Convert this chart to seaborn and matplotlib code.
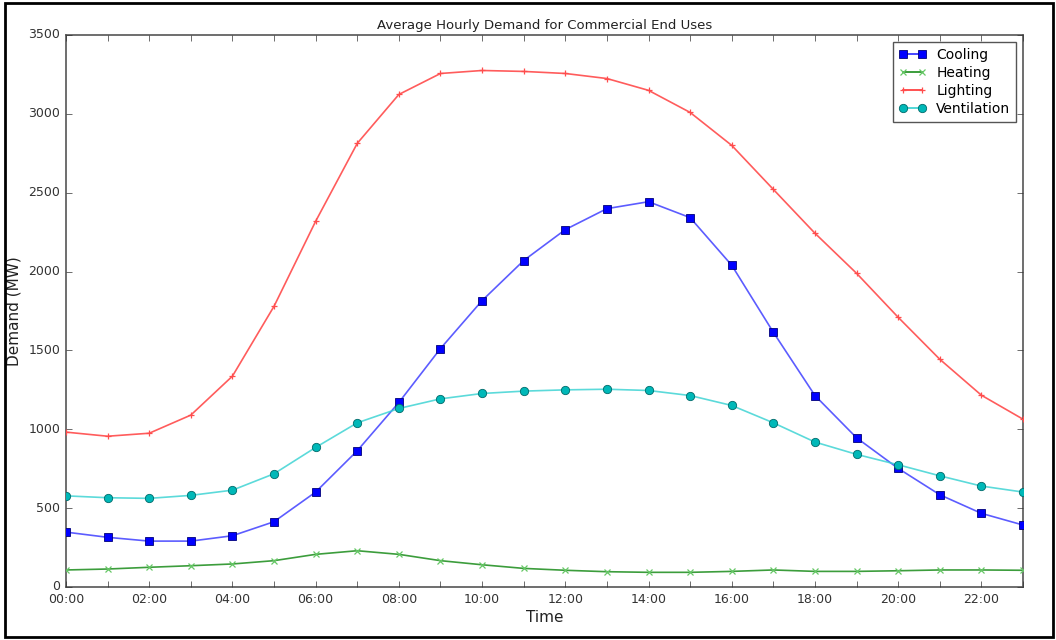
import matplotlib
matplotlib.use("Agg")
import matplotlib.pyplot as plt
from matplotlib.lines import Line2D
from matplotlib.patches import Rectangle
import seaborn as sns
import pandas as pd

hours = list(range(24))
hour_labels = ["%02d:00" % h if h % 2 == 0 else "" for h in hours]

cooling = [348, 315, 291, 291, 325, 414, 602, 864, 1170, 1512, 1816, 2070,
           2266, 2399, 2443, 2342, 2040, 1615, 1214, 946, 752, 585, 467, 393]
heating = [108, 114, 125, 135, 146, 167, 207, 230, 207, 167, 141, 118,
           106, 97, 93, 93, 99, 108, 99, 99, 103, 108, 108, 106]
lighting = [982, 956, 975, 1090, 1337, 1780, 2319, 2813, 3123, 3256, 3275, 3269,
            3256, 3224, 3149, 3009, 2800, 2521, 2243, 1989, 1710, 1444, 1216, 1064]
ventilation = [578, 566, 562, 581, 614, 718, 885, 1041, 1132, 1193, 1227, 1242,
               1250, 1254, 1246, 1214, 1151, 1041, 919, 841, 775, 705, 640, 602]

series_names = ["Cooling", "Heating", "Lighting", "Ventilation"]
series_values = [cooling, heating, lighting, ventilation]

plt.style.use("classic")
plt.rcParams["font.family"] = ["DejaVu Sans"]

fig = plt.figure(figsize=(10.56, 6.4), dpi=100, facecolor="white")
ax = fig.add_axes([66 / 1056, 53 / 640, 957 / 1056, 552 / 640])

# line colour, line alpha, marker, marker size, face, edge, edge width
styles = {
    "Cooling": dict(line=(0.15, 0.15, 1.0), alpha=0.75, marker="s", ms=5.5,
                    mfc=(0, 0, 1), mec="#00007a", mew=0.6),
    "Heating": dict(line=(0.1, 0.55, 0.1), alpha=0.85, marker="x", ms=4.5,
                    mfc="none", mec=(0.4, 0.78, 0.4), mew=0.9),
    "Lighting": dict(line=(1.0, 0.2, 0.2), alpha=0.8, marker="+", ms=5,
                     mfc="none", mec=(1, 0.3, 0.3), mew=0.9),
    "Ventilation": dict(line=(0.2, 0.82, 0.82), alpha=0.8, marker="o", ms=6,
                        mfc=(0, 0.72, 0.72), mec="#006a6a", mew=0.6),
}

handles = []
for name, vals in zip(series_names, series_values):
    st = styles[name]
    df = pd.DataFrame({"hour": hours, "demand": vals})
    sns.lineplot(data=df, x="hour", y="demand", ax=ax, color=st["line"],
                 lw=1.2, alpha=st["alpha"])
    ax.plot(df["hour"], df["demand"], linestyle="none", marker=st["marker"],
            ms=st["ms"], mfc=st["mfc"], mec=st["mec"], mew=st["mew"], zorder=3)
    handles.append(Line2D([0], [0], color=st["line"], lw=1.2,
                          marker=st["marker"], ms=st["ms"], mfc=st["mfc"],
                          mec=st["mec"], mew=st["mew"]))

ax.set_xlim(0, 23)
ax.set_ylim(0, 3500)
ax.set_xticks(hours)
ax.set_xticklabels(hour_labels)
ax.set_yticks(range(0, 3501, 500))
ax.tick_params(axis="both", labelsize=9, colors="#333333", direction="in",
               length=4, top=True, right=True)
for sp in ax.spines.values():
    sp.set_color("#555555")
    sp.set_linewidth(1.2)

ax.set_title("Average Hourly Demand for Commercial End Uses", fontsize=9.5,
             color="#222222", pad=4)
ax.set_xlabel("Time", fontsize=11, color="#222222")
ax.set_ylabel("Demand (MW)", fontsize=11, color="#222222")
ax.xaxis.set_label_coords(0.5, -0.042)
ax.yaxis.set_label_coords(-0.046, 0.5)

leg = ax.legend(handles, series_names, loc="upper right", numpoints=2,
                fontsize=10, frameon=True, borderpad=0.4, labelspacing=0.3,
                handlelength=2.0, handletextpad=0.7)
leg.get_frame().set_edgecolor("#555555")
leg.get_frame().set_linewidth(1.0)

fig.patches.append(Rectangle((5 / 1056, 3 / 640), 1048 / 1056, 634 / 640,
                             transform=fig.transFigure, fill=False,
                             edgecolor="black", linewidth=2.0))

fig.savefig("out.png", dpi=100, facecolor="white")
